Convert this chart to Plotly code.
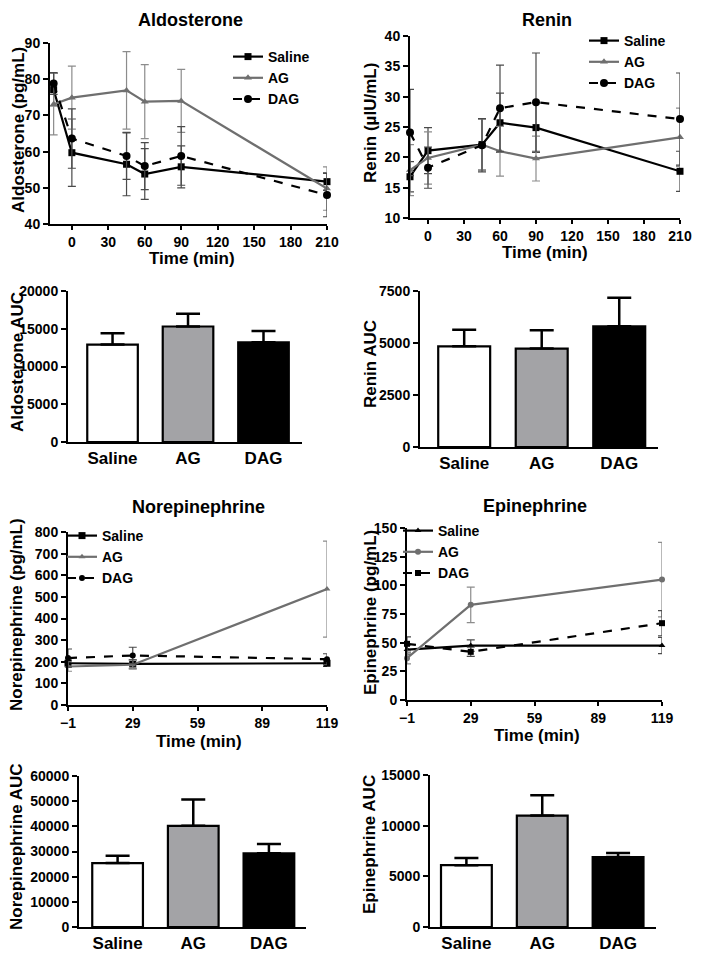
import plotly.graph_objects as go

# Browser page has an 8px body margin: the figure is sized and positioned to compensate.
OFF = 8
W, H = 704 - OFF, 962 - OFF

# ---------------- data ----------------
groups = ["Saline", "AG", "DAG"]

aldo_time = [-15, 0, 45, 60, 90, 210]
aldo_saline = [77.1, 59.7, 56.5, 53.8, 55.8, 51.7]
aldo_saline_err = [4.5, 9.3, 8.7, 7.0, 5.8, 2.4]
aldo_ag = [73.1, 74.9, 76.9, 73.8, 74.0, 49.8]
aldo_ag_err = [8.5, 8.7, 10.7, 10.2, 8.7, 6.0]
aldo_dag = [78.8, 63.6, 58.8, 56.0, 58.8, 48.0]
aldo_dag_err = [3.0, 8.2, 6.5, 6.5, 8.1, 6.0]

renin_time = [-15, 0, 45, 60, 90, 210]
renin_saline = [16.8, 21.1, 22.1, 25.7, 24.9, 17.7]
renin_saline_err = [2.5, 3.8, 4.2, 4.9, 4.1, 3.3]
renin_ag = [17.9, 19.9, 22.1, 21.0, 19.8, 23.3]
renin_ag_err = [4.2, 4.3, 4.2, 4.1, 3.7, 4.8]
renin_dag = [24.1, 18.3, 22.0, 28.1, 29.1, 26.3]
renin_dag_err = [7.1, 3.4, 4.4, 7.1, 8.1, 7.6]

ne_time = [-1, 29, 119]
ne_saline = [193, 190, 193]
ne_saline_err = [15, 20, 15]
ne_ag = [178, 186, 536]
ne_ag_err = [22, 20, 222]
ne_dag = [217, 229, 212]
ne_dag_err = [42, 38, 25]

epi_time = [-1, 29, 119]
epi_saline = [44, 47.5, 47.5]
epi_saline_err = [4, 5, 7]
epi_ag = [36.5, 83, 105]
epi_ag_err = [5, 15.5, 32.5]
epi_dag = [49, 42, 67]
epi_dag_err = [6, 4, 11]

aldo_auc = [12900, 15300, 13200]
aldo_auc_err = [1500, 1700, 1500]
renin_auc = [4840, 4730, 5800]
renin_auc_err = [800, 880, 1380]
ne_auc = [25400, 40200, 29300]
ne_auc_err = [2900, 10500, 3700]
epi_auc = [6100, 11000, 6900]
epi_auc_err = [700, 2000, 400]

# ---------------- helpers ----------------
FAM = "Liberation Sans, Arial, sans-serif"
def F(size, color="black"):
    return dict(family=FAM, size=size, color=color, weight="bold")

def px_x(p):
    return (p - OFF) / W
def px_y(p):
    return 1 - (p - OFF) / H

fig = go.Figure()
annotations = []

BLACK = "#000000"
GRAY = "#6f6f6f"
EGRAY = "#8c8c8c"
EDARK = "#4a4a4a"
BAR_GRAY = "#a3a3a6"

def axis_common():
    return dict(showline=True, linecolor="black", linewidth=2, ticks="outside",
                ticklen=5, tickwidth=2, tickcolor="black", showgrid=False,
                zeroline=False, tickfont=F(14), automargin=False)

def add_line_panel(idx, xd, yd, xr, yr, xt, yt, series, legend_name):
    xa = "xaxis" if idx == 1 else f"xaxis{idx}"
    ya = "yaxis" if idx == 1 else f"yaxis{idx}"
    xref = "x" if idx == 1 else f"x{idx}"
    yref = "y" if idx == 1 else f"y{idx}"
    a = axis_common()
    a.update(domain=[px_x(xd[0]), px_x(xd[1])], range=xr, tickvals=xt, anchor=yref,
             ticklen=4)
    fig.layout[xa] = a
    b = axis_common()
    b.update(domain=[px_y(yd[1]), px_y(yd[0])], range=yr, tickvals=yt, anchor=xref)
    fig.layout[ya] = b
    for (name, x, y, e, color, ecolor, dash, sym, msize) in series:
        fig.add_trace(go.Scatter(
            x=x, y=y, name=name, xaxis=xref, yaxis=yref, mode="lines+markers",
            line=dict(color=color, width=2.2, dash=dash),
            marker=dict(symbol=sym, size=msize, color=color),
            error_y=dict(type="data", array=e, visible=True, color=ecolor,
                         thickness=1.2, width=4),
            legend=legend_name, cliponaxis=False))

def add_bar_panel(idx, xd, yd, xr, yr, yt, vals, errs):
    xa = f"xaxis{idx}"
    ya = f"yaxis{idx}"
    xref = f"x{idx}"
    yref = f"y{idx}"
    a = axis_common()
    a.update(domain=[px_x(xd[0]), px_x(xd[1])], range=xr, ticks="",
             tickfont=F(17), anchor=yref, type="category")
    fig.layout[xa] = a
    b = axis_common()
    b.update(domain=[px_y(yd[1]), px_y(yd[0])], range=yr, tickvals=yt,
             tickformat="d", anchor=xref)
    fig.layout[ya] = b
    fig.add_trace(go.Bar(
        x=groups, y=vals, xaxis=xref, yaxis=yref, width=0.67, showlegend=False,
        marker=dict(color=["white", BAR_GRAY, "black"],
                    line=dict(color="black", width=2.2)),
        error_y=dict(type="data", array=errs, arrayminus=[0, 0, 0], symmetric=False,
                     color="black", thickness=2.5, width=12)))

# Panel 1: Aldosterone
add_line_panel(1, (50, 327), (43, 224), [-18, 210], [40, 90],
               [0, 30, 60, 90, 120, 150, 180, 210], [40, 50, 60, 70, 80, 90],
               [("Saline", aldo_time, aldo_saline, aldo_saline_err, BLACK, EDARK, "solid", "square", 7),
                ("AG", aldo_time, aldo_ag, aldo_ag_err, GRAY, EGRAY, "solid", "triangle-up", 7),
                ("DAG", aldo_time, aldo_dag, aldo_dag_err, BLACK, EDARK, "dash", "circle", 8)],
               "legend")
# Panel 2: Renin
add_line_panel(2, (410, 680), (36, 218), [-15, 210], [10, 40],
               [0, 30, 60, 90, 120, 150, 180, 210], [10, 15, 20, 25, 30, 35, 40],
               [("Saline", renin_time, renin_saline, renin_saline_err, BLACK, EDARK, "solid", "square", 7),
                ("AG", renin_time, renin_ag, renin_ag_err, GRAY, EGRAY, "solid", "triangle-up", 7),
                ("DAG", renin_time, renin_dag, renin_dag_err, BLACK, EDARK, "dash", "circle", 8)],
               "legend2")
# Panel 5: Norepinephrine
add_line_panel(5, (68, 327), (532, 705), [-1, 119], [0, 800],
               [-1, 29, 59, 89, 119], [0, 100, 200, 300, 400, 500, 600, 700, 800],
               [("Saline", ne_time, ne_saline, ne_saline_err, BLACK, EDARK, "solid", "square", 7),
                ("AG", ne_time, ne_ag, ne_ag_err, GRAY, EGRAY, "solid", "triangle-up", 6),
                ("DAG", ne_time, ne_dag, ne_dag_err, BLACK, EDARK, "dash", "circle", 6)],
               "legend3")
# Panel 6: Epinephrine
add_line_panel(6, (407, 662), (528, 700), [-1, 119], [0, 150],
               [-1, 29, 59, 89, 119], [0, 25, 50, 75, 100, 125, 150],
               [("Saline", epi_time, epi_saline, epi_saline_err, BLACK, EDARK, "solid", "triangle-up", 6),
                ("AG", epi_time, epi_ag, epi_ag_err, GRAY, EGRAY, "solid", "circle", 6),
                ("DAG", epi_time, epi_dag, epi_dag_err, BLACK, EDARK, "dash", "square", 6)],
               "legend4")

# Bar panels
add_bar_panel(3, (68, 302), (291, 442), [-0.59, 2.51], [0, 20000],
              [0, 5000, 10000, 15000, 20000], aldo_auc, aldo_auc_err)
add_bar_panel(4, (420, 658), (291, 447), [-0.57, 2.5], [0, 7500],
              [0, 2500, 5000, 7500], renin_auc, renin_auc_err)
add_bar_panel(7, (79, 306), (776, 927), [-0.51, 2.49], [0, 60000],
              [0, 10000, 20000, 30000, 40000, 50000, 60000], ne_auc, ne_auc_err)
add_bar_panel(8, (430, 656), (775, 927), [-0.48, 2.5], [0, 15000],
              [0, 5000, 10000, 15000], epi_auc, epi_auc_err)

def ann(text, x, y, size, angle=0):
    annotations.append(dict(text=text, xref="paper", yref="paper", x=px_x(x), y=px_y(y),
                            xanchor="center", yanchor="middle", showarrow=False,
                            font=F(size), textangle=angle))

# Panel titles
ann("Aldosterone", 190, 20, 18)
ann("Renin", 547, 20, 18)
ann("Norepinephrine", 198, 507, 18)
ann("Epinephrine", 535, 506, 18)
# x titles
ann("Time (min)", 192, 258, 17)
ann("Time (min)", 545, 253, 17)
ann("Time (min)", 199, 741, 17)
ann("Time (min)", 537, 735, 17)
# y titles
ann("Aldosterone (pg/mL)", 18, 130, 17, -90)
ann("Renin (µIU/mL)", 370, 123, 17, -90)
ann("Aldosterone AUC", 18, 362, 17, -90)
ann("Renin AUC", 370, 364, 17, -90)
ann("Norepinephrine (pg/mL)", 16, 615, 17, -90)
ann("Epinephrine (pg/mL)", 370, 612, 17, -90)
ann("Norepinephrine AUC", 16, 847, 17, -90)
ann("Epinephrine AUC", 369, 845, 17, -90)

def leg(x, y):
    return dict(x=px_x(x), y=px_y(y), xanchor="left", yanchor="top", xref="paper",
                yref="paper", bgcolor="rgba(0,0,0,0)", font=F(14), borderwidth=0,
                tracegroupgap=0)

fig.update_layout(
    width=W, height=H, margin=dict(l=0, r=0, t=0, b=0),
    paper_bgcolor="white", plot_bgcolor="white",
    font=F(14), annotations=annotations,
    legend=leg(228, 41), legend2=leg(584, 25), legend3=leg(62, 520), legend4=leg(398, 515),
    bargap=0.3,
)

fig.write_html("out.html")
